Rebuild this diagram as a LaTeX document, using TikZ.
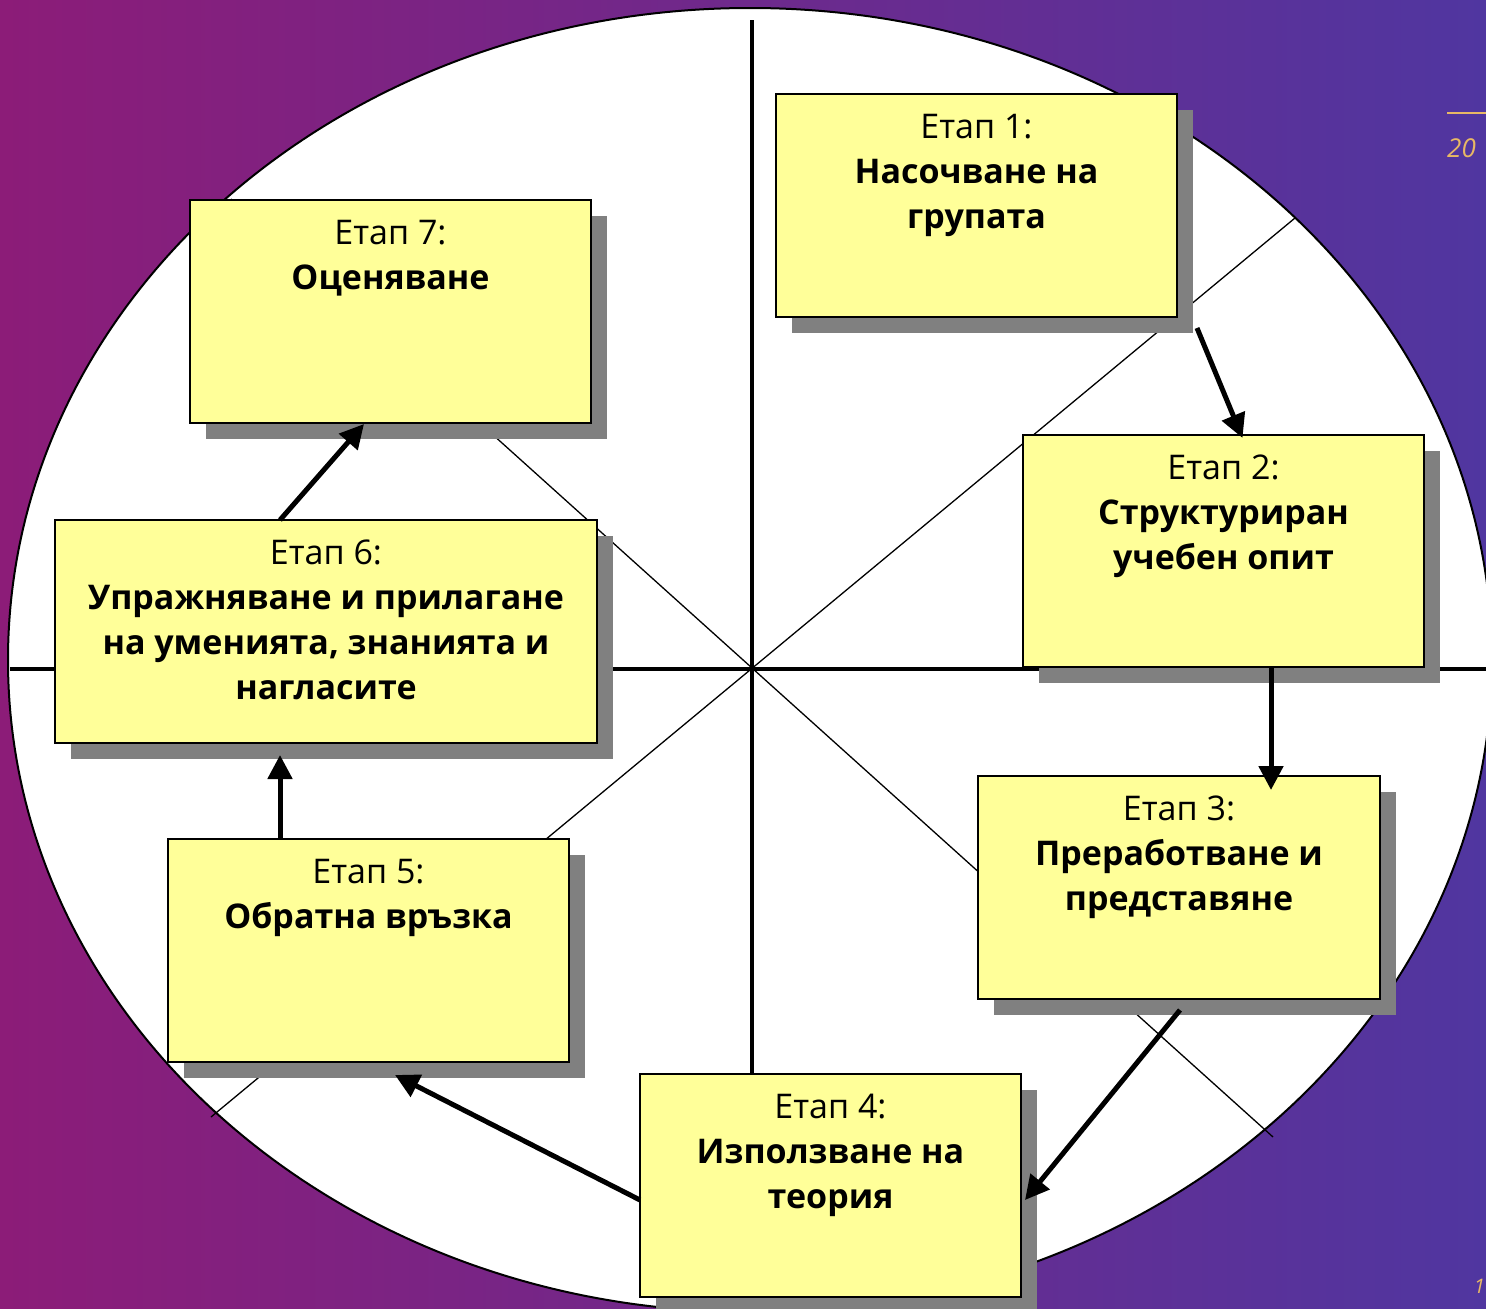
\documentclass[tikz,border=0pt]{standalone}
\usepackage{fontspec}
\setmainfont{Open Sans}
\usetikzlibrary{arrows.meta,calc}
\definecolor{boxyellow}{HTML}{FFFF99}
\definecolor{shadowgray}{HTML}{808080}
\definecolor{bgleft}{HTML}{8C1C78}
\definecolor{bgmid}{HTML}{6E2889}
\definecolor{bgright}{HTML}{5036A0}
\definecolor{gold}{HTML}{E8B865}
\newcommand{\stagetext}[3]{\parbox[c][#2][t]{#1}{\centering\fontsize{34}{45}\selectfont\rule{0pt}{44pt}#3}}
\begin{document}
\begin{tikzpicture}[x=1pt,y=-1pt,
  stagebox/.style={draw=black, line width=2pt, fill=boxyellow, inner sep=0pt, outer sep=0pt,
    preaction={fill=shadowgray, transform canvas={shift={(16pt,-16pt)}}}},
  arr/.style={line width=5pt, -{Triangle[length=24pt,width=24pt]}},
  thinline/.style={line width=1.3pt},
  axisline/.style={line width=4pt},
  goldtext/.style={text=gold, inner sep=0pt, font=\fontsize{26}{30}\selectfont\itshape}]
\useasboundingbox (0,0) rectangle (1486,1309);
% background
\fill[left color=bgleft, middle color=bgmid, right color=bgright] (0,0) rectangle (1486,1309);
\draw[gold, line width=1.2pt] (1447,113) -- (1490,113);
\node[goldtext, anchor=base west] (yr) at (1447,157) {20};
\node[goldtext, anchor=base east, font=\fontsize{20}{22}\selectfont\itshape] (pg) at (1485,1293) {1};
% ellipse and axes
\draw[line width=2pt, fill=white] (750,660) ellipse [x radius=742pt, y radius=652pt];
\coordinate (d1a) at (1295,218);
\coordinate (d1b) at (211,1117);
\coordinate (d2a) at (231,199);
\coordinate (d2b) at (1273,1137);
\draw[thinline] (d1a) -- (d1b);
\draw[thinline] (d2a) -- (d2b);
\coordinate (vt) at (752,20);
\coordinate (vb) at (752,1080);
\coordinate (hl) at (10,669);
\coordinate (hr) at (1490,669);
\draw[axisline] (vt) -- (vb);
\draw[axisline] (hl) -- (hr);
% boxes
\node[stagebox] (b1) at (976.5,205.5) {\stagetext{401pt}{223pt}{Етап 1:\\ \textbf{Насочване на}\\ \textbf{групата}}};
\node[stagebox] (b2) at (1223.5,551) {\stagetext{401pt}{232pt}{Етап 2:\\ \textbf{Структуриран}\\ \textbf{учебен опит}}};
\node[stagebox] (b3) at (1179,887.5) {\stagetext{402pt}{223pt}{Етап 3:\\ \textbf{Преработване и}\\ \textbf{представяне}}};
\node[stagebox] (b4) at (830.5,1185.5) {\stagetext{381pt}{223pt}{Етап 4:\\ \textbf{Използване на}\\ \textbf{теория}}};
\node[stagebox] (b5) at (368.5,950.5) {\stagetext{401pt}{223pt}{Етап 5:\\ \textbf{Обратна връзка}}};
\node[stagebox] (b6) at (326,631.5) {\stagetext{542pt}{223pt}{Етап 6:\\ \textbf{Упражняване и прилагане}\\ \textbf{на уменията, знанията и}\\ \textbf{нагласите}}};
\node[stagebox] (b7) at (390.5,311.5) {\stagetext{401pt}{223pt}{Етап 7:\\ \textbf{Оценяване}}};
% arrows
\draw[arr] ([shift={(20pt,-11pt)}]b1.south east) -- ([shift={(19pt,-3pt)}]b2.north);
\draw[arr] ([xshift=47.5pt]b2.south) -- ([shift={(92pt,-14pt)}]b3.north);
\draw[arr] ([shift={(1pt,-11pt)}]b3.south) -- ([shift={(4pt,-14.5pt)}]b4.east);
\draw[arr] ([yshift=-14.5pt]b4.west) -- ([shift={(26.5pt,-13pt)}]b5.south);
\draw[arr] ([xshift=-88.5pt]b5.north) -- ([shift={(-46pt,-12pt)}]b6.south);
\draw[arr] ([xshift=-46pt]b6.north) -- ([shift={(-26.5pt,-1pt)}]b7.south);
\end{tikzpicture}
\end{document}
